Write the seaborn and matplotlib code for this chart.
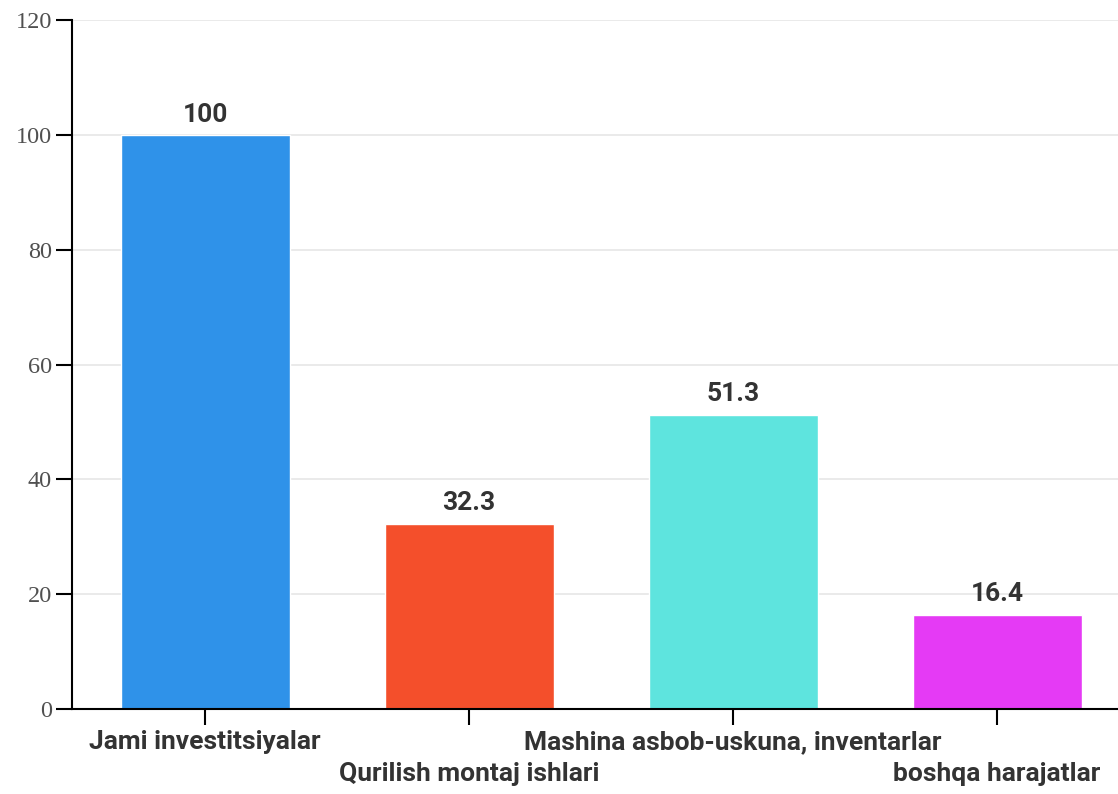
import matplotlib
matplotlib.use("Agg")
import matplotlib.pyplot as plt
import seaborn as sns
import pandas as pd

# Chart data
categories = [
    "Jami investitsiyalar",
    "Qurilish montaj ishlari",
    "Mashina asbob-uskuna, inventarlar",
    "boshqa harajatlar",
]
values = [100, 32.3, 51.3, 16.4]
value_labels = ["100", "32.3", "51.3", "16.4"]
colors = ["#2f92e9", "#f44f2b", "#5ee4de", "#e53af5"]
y_ticks = [0, 20, 40, 60, 80, 100, 120]

df = pd.DataFrame({"category": categories, "value": values})

sns.set_style("white")
label_font = ["Liberation Sans Narrow", "Roboto", "DejaVu Sans"]

fig = plt.figure(figsize=(11.18, 7.94), dpi=100)
ax = fig.add_axes([0.0644, 0.1071, 0.9356, 0.8675])

sns.barplot(data=df, x="category", y="value", hue="category",
            palette=colors, width=0.64, legend=False, saturation=1, ax=ax)

# value labels above bars
for container, lab in zip(ax.containers, value_labels):
    ax.bar_label(container, labels=[lab], padding=6, fontsize=19,
                 fontweight="bold", color="#333333", family=label_font)

ax.set_ylim(0, 120)
ax.set_xlim(-0.504, 3.458)
ax.set_yticks(y_ticks)
ax.set_yticklabels([str(t) for t in y_ticks], family="Liberation Serif",
                   fontsize=17.5, color="#505050")
ax.set_xlabel("")
ax.set_ylabel("")

ax.yaxis.grid(True, color="#e6e6e6", linewidth=1.2)
ax.set_axisbelow(True)

for side in ["top", "right"]:
    ax.spines[side].set_visible(False)
for side in ["left", "bottom"]:
    ax.spines[side].set_color("black")
    ax.spines[side].set_linewidth(1.5)

ax.tick_params(axis="both", bottom=True, left=True, length=11.5,
               width=1.5, color="black")
ax.tick_params(axis="y", pad=3)

for lbl in ax.get_xticklabels():
    lbl.set_family(label_font)
    lbl.set_fontweight("bold")
    lbl.set_fontsize(19)
    lbl.set_color("#333333")

# staggered x labels
for i, tick in enumerate(ax.xaxis.get_major_ticks()):
    tick.set_pad(4 if i % 2 == 0 else 27)

fig.savefig("out.png", dpi=100)
